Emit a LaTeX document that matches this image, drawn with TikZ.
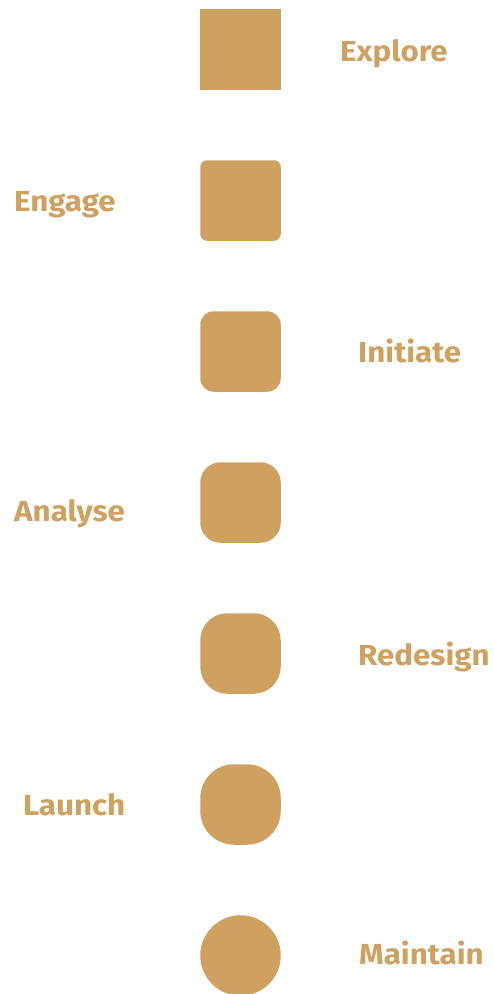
\documentclass[tikz,border=0pt]{standalone}
\usepackage{fontspec}
\setmainfont{Fira Sans}
\newfontfamily\lblfont{Fira Sans}[FakeStretch=1.08]
\definecolor{gold}{RGB}{206,161,96}
\begin{document}
\begin{tikzpicture}[x=1pt,y=-1pt,
  blk/.style={fill=gold,draw=none,minimum width=80.5pt,minimum height=80.5pt,inner sep=0pt},
  lbl/.style={text=gold,font=\lblfont\bfseries\fontsize{29}{32}\selectfont,inner sep=0pt,anchor=base west}]
\useasboundingbox (0,0) rectangle (493,994);
\foreach \i/\r in {0/0,1/6.75,2/13.5,3/20.25,4/27,5/33.75,6/40.24}{
  \node[blk,rounded corners=\r pt] (b\i) at (240.5,{49.5+151*\i}) {};
}
\node[lbl] (t0) at (340,61) {Explore};
\node[lbl] (t1) at (14,211) {Engage};
\node[lbl] (t2) at (358,362) {Initiate};
\node[lbl] (t3) at (14,521.5) {Analyse};
\node[lbl] (t4) at (358,665) {Redesign};
\node[lbl] (t5) at (23,815) {Launch};
\node[lbl] (t6) at (359,964) {Maintain};
\end{tikzpicture}
\end{document}
